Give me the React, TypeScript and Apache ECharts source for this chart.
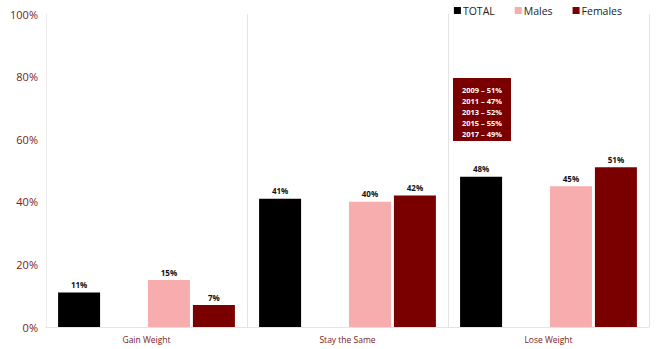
import React, { useEffect, useRef } from "react";
import * as echarts from "echarts";

const categories = ["Gain Weight", "Stay the Same", "Lose Weight"];
const totalValues = [11, 41, 48];
const spacerValues = [null, null, null];
const maleValues = [15, 40, 45];
const femaleValues = [7, 42, 51];
const yTicks = [0, 20, 40, 60, 80, 100];
const noteLines = ["2009 – 51%", "2011 – 47%", "2013 – 52%", "2015 – 55%", "2017 – 49%"];

const DARK_RED = "#7a0000";
const PINK = "#f7adad";
const AXIS_RED = "#7a1a1a";
const FONT = "'Open Sans', 'DejaVu Sans', sans-serif";

export default function App() {
  const ref = useRef<HTMLDivElement>(null);
  useEffect(() => {
    if (!ref.current) return;
    const chart = echarts.init(ref.current, null, { renderer: "svg" });
    const label = {
      show: true,
      position: "top",
      distance: 4,
      formatter: "{c}%",
      fontSize: 8,
      fontWeight: "bold",
      color: "#111",
      fontFamily: FONT,
    };
    chart.setOption({
      animation: false,
      textStyle: { fontFamily: FONT },
      legend: {
        data: ["TOTAL", "Males", "Females"],
        top: 0,
        right: 38,
        itemWidth: 7,
        itemHeight: 7,
        itemGap: 20,
        icon: "rect",
        textStyle: { fontSize: 10.5, color: "#222", padding: [0, 0, 0, -3] },
      },
      grid: { left: 46, right: 16, top: 14, bottom: 22 },
      xAxis: {
        type: "category",
        data: categories,
        axisLine: { show: true, lineStyle: { color: "#e4e4e4" } },
        axisTick: { show: false },
        splitLine: { show: true, lineStyle: { color: "#e4e4e4" } },
        axisLabel: { color: AXIS_RED, fontSize: 8.5, margin: 8 },
      },
      yAxis: {
        type: "value",
        min: 0,
        max: 100,
        interval: 20,
        axisLine: { show: true, lineStyle: { color: "#ececec" } },
        axisTick: { show: false },
        splitLine: { show: false },
        axisLabel: {
          color: AXIS_RED,
          fontSize: 11,
          margin: 8,
          formatter: (v: number) => (yTicks.includes(v) ? v + "%" : ""),
        },
      },
      series: [
        { name: "TOTAL", type: "bar", data: totalValues, itemStyle: { color: "#000" }, barWidth: 42, barGap: "7%", label },
        { name: "spacer", type: "bar", data: spacerValues, itemStyle: { color: "transparent" }, barWidth: 42, barGap: "7%" },
        { name: "Males", type: "bar", data: maleValues, itemStyle: { color: PINK }, barWidth: 42, barGap: "7%", label },
        { name: "Females", type: "bar", data: femaleValues, itemStyle: { color: DARK_RED }, barWidth: 42, barGap: "7%", label },
      ],
      graphic: [
        {
          type: "group",
          left: 453,
          top: 78,
          children: [
            { type: "rect", shape: { x: 0, y: 0, width: 58, height: 63 }, style: { fill: DARK_RED } },
            {
              type: "text",
              x: 29,
              y: 6,
              style: {
                text: noteLines.join("\n"),
                fill: "#fff",
                fontSize: 7.5,
                fontWeight: "bold",
                lineHeight: 11,
                align: "center",
                fontFamily: FONT,
              },
            },
          ],
        },
      ],
    });
    return () => chart.dispose();
  }, []);
  return <div ref={ref} style={{ width: 665, height: 349, position: "absolute", left: 0, top: 0 }} />;
}
